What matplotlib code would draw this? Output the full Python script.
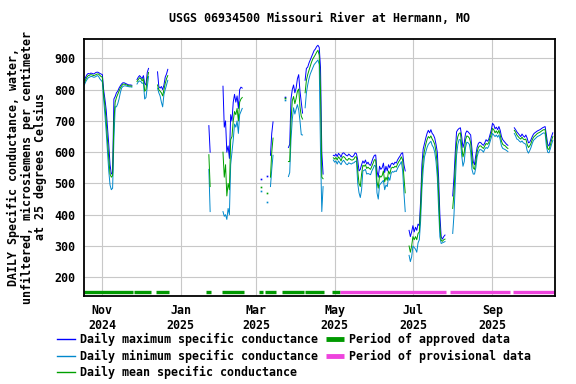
import numpy as np
import pandas as pd
import matplotlib
matplotlib.use("Agg")
import matplotlib.pyplot as plt
import matplotlib.dates as mdates
from matplotlib.lines import Line2D

TITLE = "USGS 06934500 Missouri River at Hermann, MO"
YLABEL = ("DAILY Specific conductance, water,\n"
          "unfiltered, microsiemens per centimeter\n"
          "at 25 degrees Celsius")

# each data segment: first day, then daily max / mean / min values
seg_start = ["2024-10-18", "2024-11-28", "2024-12-14", "2025-01-23", "2025-02-03",
             "2025-03-05", "2025-03-09", "2025-03-12", "2025-03-23", "2025-03-26",
             "2025-04-08", "2025-04-30", "2025-06-28", "2025-08-01", "2025-09-18"]

seg_max = [
    [830, 840, 848, 852, 850, 853, 852, 850, 852, 855, 856, 855, 852, 850,
     848, 800, 770, 735, 680, 625, 560, 530, 535, 770, 778, 790, 795, 805,
     812, 818, 822, 822, 820, 818, 816, 815, 815, 814],
    [832, 840, 845, 840, 835, 845, 820, 815, 855, 868],
    [857, 810, 805, 810, 800, 815, 840, 850, 865],
    [685, 600],
    [811, 680, 700, 600, 620, 580, 720, 700, 760, 785, 760, 780, 740, 800, 808, 805],
    [513],
    [524],
    [590, 660, 697],
    [778],
    [615, 625, 770, 800, 815, 790, 805, 835, 848, 795, 760, 725],
    [830, 868, 872, 885, 895, 905, 915, 925, 930, 938, 942, 935, 870, 600, 530],
    [590, 588, 594, 586, 596, 592, 584, 596, 598, 594, 590, 588, 594, 590, 586,
     585, 590, 598, 595, 575, 540, 545, 560, 572, 565, 575, 562, 568, 560, 558,
     570, 582, 590, 591, 540, 520, 555, 545, 550, 565, 535, 555, 540, 560, 550,
     562, 565, 560, 568, 565, 575, 582, 588, 596, 598, 560, 540],
    [350, 330, 345, 365, 345, 360, 350, 370, 365, 445, 560, 610, 628, 645, 660,
     670, 662, 672, 660, 655, 645, 625, 600, 520, 400, 330, 322, 330, 335],
    [460, 520, 600, 665, 672, 676, 678, 650, 615, 630, 660, 668, 665, 660, 655,
     610, 570, 560, 590, 615, 628, 632, 630, 625, 622, 630, 640, 635, 640, 655,
     670, 692, 688, 675, 680, 672, 682, 670, 650, 640, 635, 630, 625, 622],
    [678, 672, 665, 660, 655, 650, 658, 652, 648, 655, 645, 630, 632,
     640, 650, 658, 662, 665, 668, 670, 672, 675, 678, 680, 682, 655, 625, 620,
     635, 650, 662],
]

seg_mean = [
    [822, 832, 840, 845, 846, 848, 847, 845, 846, 848, 850, 850, 846, 842,
     840, 785, 750, 700, 640, 580, 530, 520, 525, 700, 760, 775, 785, 795,
     805, 812, 817, 818, 816, 815, 813, 812, 812, 811],
    [826, 832, 838, 835, 828, 835, 795, 800, 835, 855],
    [815, 800, 795, 790, 780, 800, 820, 835, 845],
    [592, 490],
    [600, 520, 560, 460, 500, 480, 640, 650, 700, 730, 720, 740, 700, 760, 770, 775],
    [488],
    [469],
    [520, 600, 645],
    [773],
    [570, 570, 700, 765, 778, 755, 772, 795, 802, 745, 715, 706],
    [790, 830, 848, 862, 875, 888, 898, 905, 912, 920, 926, 910, 800, 520, 515],
    [582, 578, 583, 575, 585, 580, 572, 584, 586, 582, 576, 574, 580, 578, 575,
     575, 578, 585, 585, 540, 500, 490, 530, 558, 555, 560, 548, 552, 548, 545,
     555, 565, 576, 575, 505, 485, 525, 520, 525, 540, 505, 520, 510, 540, 530,
     548, 552, 550, 555, 552, 562, 570, 576, 585, 575, 520, 470],
    [300, 280, 300, 330, 320, 330, 320, 340, 345, 420, 520, 580, 605, 625, 640,
     650, 645, 652, 642, 635, 625, 600, 560, 470, 360, 318, 315, 320, 322],
    [420, 470, 560, 630, 650, 660, 662, 620, 585, 600, 640, 652, 650, 645, 630,
     580, 550, 545, 570, 600, 615, 620, 620, 615, 612, 620, 628, 625, 630, 645,
     658, 676, 672, 662, 668, 660, 670, 655, 635, 625, 622, 620, 615, 612],
    [670, 664, 655, 650, 645, 642, 648, 642, 640, 642, 625, 615, 620,
     628, 640, 648, 652, 656, 660, 662, 664, 667, 670, 672, 672, 640, 612, 608,
     622, 638, 650],
]

seg_min = [
    [815, 825, 832, 838, 840, 842, 842, 840, 840, 842, 845, 843, 835, 830,
     825, 770, 720, 665, 600, 540, 495, 480, 485, 640, 745, 745, 755, 770,
     790, 805, 810, 812, 812, 811, 810, 809, 809, 808],
    [818, 825, 828, 826, 820, 822, 770, 775, 810, 842],
    [805, 790, 780, 760, 745, 785, 800, 815, 830],
    [545, 410],
    [410, 395, 400, 385, 420, 400, 560, 600, 640, 690, 680, 700, 660, 720, 730, 740],
    [475],
    [440],
    [490, 545, 590],
    [768],
    [522, 535, 640, 705, 742, 722, 738, 752, 735, 700, 656, 655],
    [742, 790, 815, 835, 850, 860, 870, 880, 885, 890, 895, 880, 600, 410, 490],
    [575, 568, 572, 562, 572, 566, 560, 570, 574, 568, 562, 560, 566, 564, 562,
     565, 566, 570, 572, 500, 470, 455, 480, 540, 542, 545, 530, 532, 530, 528,
     540, 548, 558, 555, 470, 450, 495, 500, 505, 510, 480, 495, 490, 520, 510,
     532, 538, 536, 540, 538, 548, 556, 562, 570, 540, 470, 410],
    [270, 250, 265, 300, 295, 290, 280, 310, 320, 380, 480, 545, 585, 600, 615,
     625, 630, 635, 622, 615, 600, 570, 520, 420, 330, 308, 310, 312, 314],
    [340, 400, 500, 590, 625, 640, 640, 590, 555, 570, 615, 632, 630, 625, 600,
     545, 530, 530, 550, 585, 600, 608, 608, 605, 600, 610, 615, 612, 618, 632,
     645, 660, 655, 650, 655, 648, 655, 640, 620, 612, 610, 608, 605, 602],
    [660, 652, 642, 640, 635, 632, 636, 630, 628, 625, 605, 597, 605,
     615, 628, 638, 642, 646, 650, 652, 654, 657, 660, 662, 660, 620, 600, 598,
     610, 625, 638],
]

# approval periods (start, end)
approved_start = ["2024-10-17", "2024-11-26", "2024-12-13", "2025-01-21", "2025-02-02",
                  "2025-03-03", "2025-03-08", "2025-03-21", "2025-04-08", "2025-04-29"]
approved_end = ["2024-11-25", "2024-12-09", "2024-12-23", "2025-01-25", "2025-02-19",
                "2025-03-06", "2025-03-16", "2025-04-07", "2025-04-23", "2025-05-05"]
provisional_start = ["2025-05-05", "2025-07-30", "2025-09-17"]
provisional_end = ["2025-07-27", "2025-09-15", "2025-10-20"]

XMIN = pd.Timestamp("2024-10-17 17:00")
XMAX = pd.Timestamp("2025-10-19 17:00")

C_MAX = "#0000ff"
C_MIN = "#0088cc"
C_MEAN = "#00a000"
C_APPR = "#009900"
C_PROV = "#ee44dd"


def build_series(starts, values):
    parts = []
    for start, vals in zip(starts, values):
        idx = pd.date_range(start, periods=len(vals), freq="D")
        parts.append(pd.Series(vals, index=idx, dtype=float))
    s = pd.concat(parts)
    full = pd.date_range(XMIN.floor("D"), XMAX.ceil("D"), freq="D")
    return s.reindex(full)


def draw(ax, s, color):
    ax.plot(s.index, s.values, color=color, lw=0.7)
    # single days with no neighbours would not show as a line
    ok = s.notna()
    lone = ok & ~ok.shift(1, fill_value=False) & ~ok.shift(-1, fill_value=False)
    ax.plot(s.index[lone], s.values[lone], "s", color=color, ms=1.2, mew=0)


plt.rcParams["font.family"] = "DejaVu Sans Mono"
plt.rcParams["font.weight"] = "bold"
plt.rcParams["font.size"] = 8.4

fig = plt.figure(figsize=(5.76, 3.84), dpi=100)
ax = fig.add_axes([84 / 576, 1 - 296 / 384, (555 - 84) / 576, (296 - 39) / 384])

s_max = build_series(seg_start, seg_max)
s_min = build_series(seg_start, seg_min)
s_mean = build_series(seg_start, seg_mean)

draw(ax, s_min, C_MIN)
draw(ax, s_max, C_MAX)
draw(ax, s_mean, C_MEAN)

bar_y = 152
for s, e in zip(approved_start, approved_end):
    ax.plot(pd.to_datetime([s, e]), [bar_y, bar_y], color=C_APPR, lw=2.4,
            solid_capstyle="butt")
for s, e in zip(provisional_start, provisional_end):
    ax.plot(pd.to_datetime([s, e]), [bar_y, bar_y], color=C_PROV, lw=2.4,
            solid_capstyle="butt")

ax.set_xlim(XMIN, XMAX)
ax.set_ylim(140, 962)
ax.set_yticks(np.arange(200, 901, 100))
ax.xaxis.set_major_locator(mdates.MonthLocator(bymonth=[1, 3, 5, 7, 9, 11]))
ax.xaxis.set_major_formatter(mdates.DateFormatter("%b\n%Y"))
ax.tick_params(length=0, pad=6)
ax.grid(True, color="#c8c8c8", lw=0.8)
ax.set_axisbelow(True)
for sp in ax.spines.values():
    sp.set_linewidth(1.3)
    sp.set_color("black")

fig.text(319.5 / 576, 1 - 19 / 384, TITLE, ha="center", va="center")
fig.text(27 / 576, 1 - 167 / 384, YLABEL, rotation=90, ha="center", va="center",
         multialignment="center", linespacing=1.0)

handles = [
    Line2D([], [], color=C_MAX, lw=1.0),
    Line2D([], [], color=C_MIN, lw=1.0),
    Line2D([], [], color=C_MEAN, lw=1.0),
    Line2D([], [], color=C_APPR, lw=3.5, solid_capstyle="butt"),
    Line2D([], [], color=C_PROV, lw=3.5, solid_capstyle="butt"),
]
labels = [
    "Daily maximum specific conductance",
    "Daily minimum specific conductance",
    "Daily mean specific conductance",
    "Period of approved data",
    "Period of provisional data",
]
fig.legend(handles, labels, ncol=2, loc="upper left",
           bbox_to_anchor=(57 / 576, 1 - 333 / 384), frameon=False,
           borderpad=0, borderaxespad=0, handlelength=1.55,
           handletextpad=0.45, columnspacing=0.65, labelspacing=0.3)

fig.savefig("out.png", dpi=100)
